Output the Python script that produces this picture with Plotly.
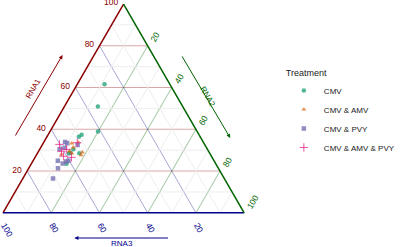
import plotly.graph_objects as go

# Data: (RNA1, RNA2, RNA3) percentages per treatment
cmv_rna1 = [61.6, 50.9, 39.0, 36.5, 37.4, 28.4, 28.8, 28.5, 23.5, 30.4]
cmv_rna2 = [11.3, 13.9, 19.9, 13.2, 13.9, 13.1, 13.6, 17.4, 14.6, 14.0]
cmv_rna3 = [27.1, 35.2, 41.1, 50.3, 48.7, 58.5, 57.6, 54.1, 61.9, 55.6]

amv_rna1 = [33.3, 31.4, 28.5, 27.6, 29.0, 28.0, 29.5, 33.7]
amv_rna2 = [11.9, 13.5, 14.3, 18.6, 18.4, 10.3, 12.8, 14.4]
amv_rna3 = [54.8, 55.1, 57.2, 53.8, 52.6, 61.7, 57.7, 51.9]

pvy_rna1 = [33.9, 33.3, 32.5, 31.2, 24.9, 24.6, 24.9, 16.5, 21.4, 23.6, 30.4]
pvy_rna2 = [8.8, 10.0, 14.7, 9.9, 10.3, 13.9, 14.7, 12.5, 12.1, 13.0, 8.3]
pvy_rna3 = [57.3, 56.7, 52.8, 58.9, 64.8, 61.5, 60.4, 71.0, 66.5, 63.4, 61.3]

all_rna1 = [33.6, 29.5, 27.1, 30.4, 26.6, 32.8]
all_rna2 = [14.0, 9.5, 11.6, 11.2, 15.1, 7.0]
all_rna3 = [52.4, 61.0, 61.3, 58.4, 58.3, 60.2]

treatments = ["CMV", "CMV & AMV", "CMV & PVY", "CMV & AMV & PVY"]
colors = ["rgba(27,158,119,0.75)", "rgba(217,95,2,0.7)", "rgba(117,112,179,0.8)", "rgba(231,41,138,0.8)"]
symbols = ["circle", "triangle-up", "square", "cross-thin"]
tick_vals = [20, 40, 60, 80, 100]
minor_vals = [10, 30, 50, 70, 90]

RED = "#8B0000"
GREEN = "#006400"
BLUE = "#00008B"

fig = go.Figure()

# minor grid lines
for v in minor_vals:
    for a, b, c in [([v, v], [100 - v, 0], [0, 100 - v]),
                    ([100 - v, 0], [v, v], [0, 100 - v]),
                    ([100 - v, 0], [0, 100 - v], [v, v])]:
        fig.add_trace(go.Scatterternary(a=a, b=b, c=c, mode="lines",
                                        line=dict(color="#e8e8e8", width=0.8),
                                        hoverinfo="skip", showlegend=False))

series = [(cmv_rna1, cmv_rna2, cmv_rna3), (amv_rna1, amv_rna2, amv_rna3),
          (pvy_rna1, pvy_rna2, pvy_rna3), (all_rna1, all_rna2, all_rna3)]
for (r1, r2, r3), name, col, sym in zip(series, treatments, colors, symbols):
    marker = dict(color=col, symbol=sym, size=4.5)
    if sym == "cross-thin":
        marker = dict(symbol=sym, size=6, line=dict(color=col, width=1))
    fig.add_trace(go.Scatterternary(a=r1, b=r3, c=r2, mode="markers", name=name,
                                    marker=marker))

def axis(color, grid, angle):
    return dict(tickmode="array", tickvals=tick_vals, ticktext=[str(t) for t in tick_vals],
                tickfont=dict(color=color, size=8.5), tickangle=angle,
                linecolor=color, linewidth=1.5, gridcolor=grid, gridwidth=1,
                ticks="outside", ticklen=3, tickcolor="rgba(0,0,0,0)",
                showgrid=True, title=dict(text=""))

def title_ann(x, y, text, angle, color):
    return dict(x=x/400, y=1-y/247, xref="paper", yref="paper", text=text,
                textangle=angle, xanchor="center", yanchor="middle",
                showarrow=False, font=dict(color=color, size=8))

def arrow_ann(hx, hy, tx, ty, color):
    return dict(x=hx/400, y=1-hy/247, xref="paper", yref="paper", ax=tx-hx, ay=ty-hy,
                text="", showarrow=True, arrowhead=2, arrowsize=0.8, arrowwidth=1,
                arrowcolor=color, standoff=0, startstandoff=0)

fig.update_layout(
    width=400, height=247,
    margin=dict(l=0, r=0, t=0, b=0),
    paper_bgcolor="white",
    font=dict(family="Liberation Sans, Arial", size=10, color="#222"),
    ternary=dict(
        sum=100,
        bgcolor="white",
        domain=dict(x=[0.0075, 0.615], y=[0.134, 0.988]),
        aaxis=axis(RED, "rgba(139,0,0,0.35)", 0),
        baxis=axis(BLUE, "rgba(0,0,139,0.35)", 60),
        caxis=axis(GREEN, "rgba(0,100,0,0.35)", -60),
    ),
    legend=dict(x=0.715, y=0.74, xanchor="left", yanchor="top",
                title=dict(text="Treatment", font=dict(size=9)),
                font=dict(size=8), tracegroupgap=0, bgcolor="rgba(0,0,0,0)"),
    annotations=[
        arrow_ann(63, 55, 15, 137, RED),
        arrow_ann(232, 138, 183, 55, GREEN),
        arrow_ann(75, 238, 170, 238, BLUE),
        title_ann(34, 89, "RNA1", -60, RED),
        title_ann(210, 97, "RNA2", 60, GREEN),
        title_ann(123, 243, "RNA3", 0, BLUE),
    ],
)

fig.write_html("out.html")
